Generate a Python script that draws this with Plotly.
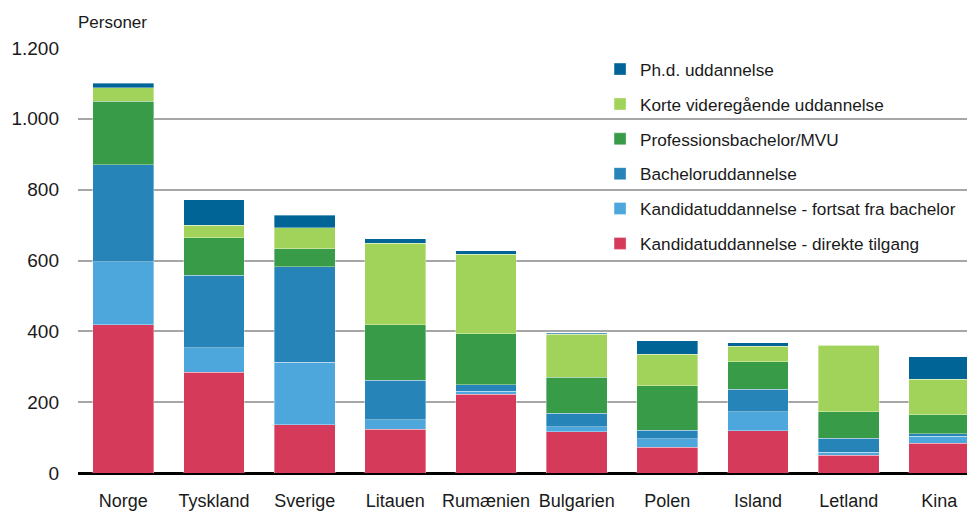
import plotly.graph_objects as go

countries = ["Norge", "Tyskland", "Sverige", "Litauen", "Rumænien",
             "Bulgarien", "Polen", "Island", "Letland", "Kina"]

direkte = [418, 284, 136, 123, 222, 117, 73, 119, 50, 84]
fortsat = [178, 69, 177, 27, 9, 13, 24, 54, 9, 20]
bachelor = [274, 205, 269, 112, 18, 39, 24, 63, 39, 7]
profession = [180, 106, 51, 156, 144, 102, 125, 78, 75, 53]
korte = [38, 35, 59, 231, 224, 121, 89, 44, 188, 101]
phd = [12, 72, 36, 12, 10, 2, 38, 10, 1, 63]

series_names = [
    "Kandidatuddannelse - direkte tilgang",
    "Kandidatuddannelse - fortsat fra bachelor",
    "Bacheloruddannelse",
    "Professionsbachelor/MVU",
    "Korte videregående uddannelse",
    "Ph.d. uddannelse",
]
series_values = [direkte, fortsat, bachelor, profession, korte, phd]
colors = ["#d63a5a", "#4da6dc", "#2784b9", "#389b48", "#a1d35a", "#006496"]

tick_vals = [0, 200, 400, 600, 800, 1000, 1200]
tick_text = ["0", "200", "400", "600", "800", "1.000", "1.200"]

font_family = "Liberation Sans, Arial, sans-serif"

fig = go.Figure()
n = len(series_names)
for i, (name, vals, col) in enumerate(zip(series_names, series_values, colors)):
    fig.add_trace(go.Bar(
        x=countries, y=vals, name=name, legendgroup=name,
        legendrank=n - i,
        marker=dict(color=col, line=dict(width=0.6, color="rgba(255,255,255,0.6)")),
        width=0.67,
    ))

# the page body has an 8px margin, so the figure is 8px smaller
fig.update_layout(
    barmode="stack",
    width=967, height=511,
    margin=dict(l=70, r=0, t=40, b=46),
    plot_bgcolor="white", paper_bgcolor="white",
    font=dict(family=font_family, size=18, color="#1a1a1a"),
    showlegend=True,
    legend=dict(
        x=0.582, y=0.992, xanchor="left", yanchor="top",
        traceorder="grouped", tracegroupgap=9.5,
        bgcolor="rgba(0,0,0,0)", font=dict(size=17.2),
        itemwidth=30,
    ),
    xaxis=dict(
        range=[-0.5, 9.393], showgrid=False, ticks="", showline=False,
        tickfont=dict(size=18), fixedrange=True, ticklabelstandoff=15,
    ),
    yaxis=dict(
        range=[0, 1200], tickvals=tick_vals, ticktext=tick_text,
        showgrid=True, gridcolor="#a6a6a6", gridwidth=1.5,
        zeroline=True, zerolinecolor="#000000", zerolinewidth=2.5,
        tickfont=dict(size=19), ticks="", ticklabelstandoff=18,
    ),
    annotations=[dict(
        text="Personer", xref="paper", yref="paper", x=0, y=1,
        xanchor="left", yanchor="bottom", yshift=14, xshift=-2,
        showarrow=False, font=dict(size=17),
    )],
)

fig.write_html("out.html")
